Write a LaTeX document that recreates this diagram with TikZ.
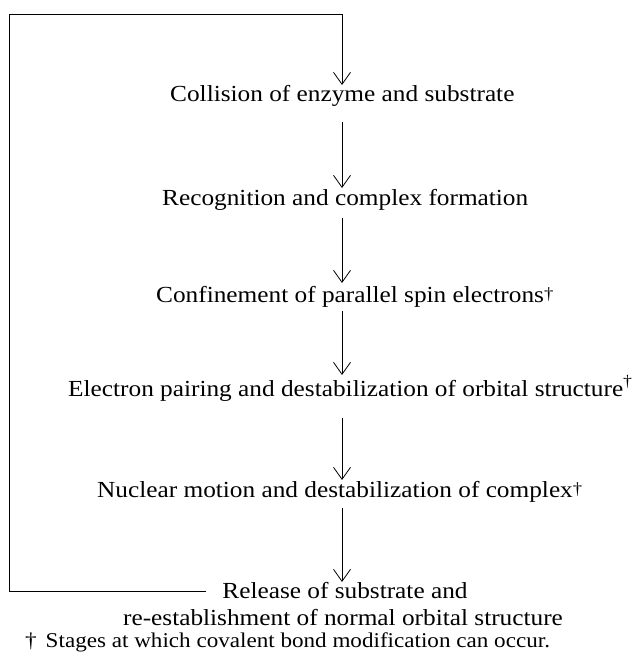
\documentclass[tikz,border=0pt]{standalone}
\usepackage{fontspec}
\setmainfont{Liberation Serif}[FakeStretch=1.1]
\usetikzlibrary{arrows.meta,calc}
\newcommand{\dg}{\raisebox{3pt}{\fontsize{17}{17}\selectfont †}}
\begin{document}
\begin{tikzpicture}[x=1pt,y=-1pt,
  lbl/.style={anchor=base west, inner sep=0pt, font=\fontsize{23}{27}\selectfont},
  clbl/.style={anchor=base, inner sep=0pt, font=\fontsize{23}{27}\selectfont},
  fnote/.style={anchor=base west, inner sep=0pt, font=\fontsize{21}{25}\selectfont},
  arr/.style={line width=0.8pt, -{Straight Barb[length=12pt,width=17pt,line width=0.8pt]}}]
\useasboundingbox (0,0) rectangle (641,655);
\coordinate (col) at (342,0);
\node[lbl] (t1) at (170,102) {Collision of enzyme and substrate};
\node[lbl] (t2) at (162,205) {Recognition and complex formation};
\node[lbl] (t3) at (156,302) {Confinement of parallel spin electrons\dg};
\node[lbl] (t4) at (68,396) {Electron pairing and destabilization of orbital structure\textsuperscript{†}};
\node[lbl] (t5) at (97,497) {Nuclear motion and destabilization of complex\dg};
\node[clbl] (t6) at (345,598) {Release of substrate and};
\node[clbl] (t6b) at (343,625) {re-establishment of normal orbital structure};
\node[fnote] (fn) at (25,647) {†\hspace{9pt}Stages at which covalent bond modification can occur.};
% return loop
\coordinate (ret) at ($(t6.base west)+(-16,-7)$);
\draw[arr] (ret) -- (9,591) -- (9,14) -- (342,14) -- ($(t1.base -| col)+(0,-17)$);
% forward arrows
\draw[arr] ($(t1.base -| col)+(0,20)$) -- ($(t2.base -| col)+(0,-17)$);
\draw[arr] ($(t2.base -| col)+(0,13)$) -- ($(t3.base -| col)+(0,-19)$);
\draw[arr] ($(t3.base -| col)+(0,9)$) -- ($(t4.base -| col)+(0,-21)$);
\draw[arr] ($(t4.base -| col)+(0,22)$) -- ($(t5.base -| col)+(0,-17)$);
\draw[arr] ($(t5.base -| col)+(0,11)$) -- ($(t6.base -| col)+(0,-16)$);
\end{tikzpicture}
\end{document}
